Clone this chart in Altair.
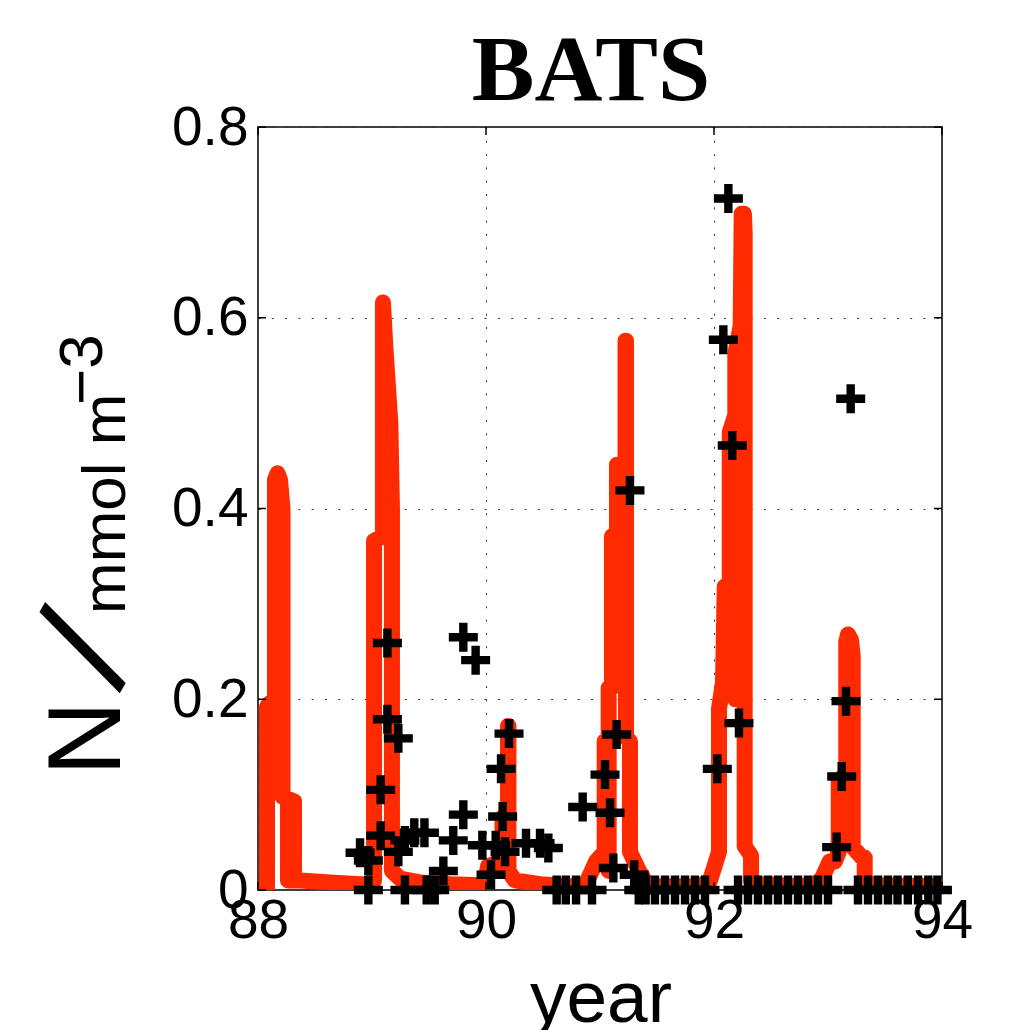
import altair as alt
import pandas as pd

# ---- model output (red line): year, N ----
line_year = [
    88.000, 88.079, 88.079, 88.096, 88.149, 88.149, 88.171, 88.193, 88.215, 88.215,
    88.316, 88.316, 88.263, 88.263, 88.263, 88.368, 88.632, 88.895,
    89.000, 89.018, 89.018, 89.079, 89.096, 89.096, 89.117, 89.161, 89.175, 89.175,
    89.246, 89.421, 89.684, 89.947,
    89.991, 90.018, 90.145, 90.145, 90.193, 90.193, 90.197, 90.197, 90.254, 90.474, 90.737,
    90.868, 90.965, 91.041, 91.041, 91.076, 91.076, 91.076, 91.105, 91.105, 91.149,
    91.149, 91.224, 91.224, 91.228, 91.228, 91.263, 91.263, 91.342, 91.404, 91.482, 91.702,
    91.877, 91.965, 92.018, 92.044, 92.044, 92.079, 92.094, 92.138, 92.138, 92.187,
    92.187, 92.187, 92.234, 92.243, 92.263, 92.269, 92.269, 92.325, 92.325, 92.404, 92.579,
    92.754, 92.886, 92.947, 93.015, 93.061, 93.094, 93.094, 93.160, 93.160, 93.175,
    93.202, 93.217, 93.217, 93.298, 93.322, 93.322, 93.456, 94.000,
]
line_val = [
    0.000, 0.000, 0.192, 0.195, 0.200, 0.430, 0.437, 0.430, 0.400, 0.098,
    0.093, 0.012, 0.012, 0.090, 0.010, 0.010, 0.008, 0.006,
    0.006, 0.010, 0.366, 0.370, 0.370, 0.616, 0.570, 0.490, 0.400, 0.020,
    0.012, 0.008, 0.006, 0.005,
    0.008, 0.025, 0.030, 0.076, 0.080, 0.172, 0.172, 0.020, 0.010, 0.006, 0.004,
    0.004, 0.030, 0.040, 0.156, 0.156, 0.020, 0.212, 0.212, 0.371, 0.371,
    0.446, 0.446, 0.576, 0.576, 0.160, 0.156, 0.040, 0.020, 0.008, 0.004, 0.004,
    0.004, 0.010, 0.030, 0.040, 0.190, 0.218, 0.318, 0.322, 0.480, 0.498,
    0.200, 0.562, 0.592, 0.709, 0.709, 0.688, 0.046, 0.036, 0.010, 0.006, 0.005,
    0.004, 0.006, 0.012, 0.030, 0.030, 0.040, 0.115, 0.122, 0.260, 0.268,
    0.262, 0.245, 0.045, 0.034, 0.034, 0.008, 0.005, 0.004,
]

# ---- observations (black crosses): year, N ----
obs_year = [
    88.895, 88.968, 88.968, 89.076, 89.076, 89.135, 89.135, 89.231, 89.231, 89.289,
    89.289, 89.371, 89.460, 89.480, 89.550, 89.626, 89.713, 89.801, 89.909, 89.801,
    89.968, 90.044, 90.085, 90.132, 90.146, 90.167, 90.202, 90.351, 90.474, 90.547,
    90.620, 90.700, 90.790, 90.848, 90.930,
    91.044, 91.088, 91.117, 91.146, 91.263, 91.300, 91.340, 91.400, 91.482, 91.570,
    91.658, 91.746, 91.833, 91.921,
    92.029, 92.082, 92.126, 92.160, 92.219,
    92.211, 92.298, 92.386, 92.474, 92.561, 92.649, 92.737, 92.825, 92.912, 93.000,
    93.076, 93.120, 93.158, 93.199,
    93.263, 93.351, 93.439, 93.526, 93.610, 93.700, 93.790, 93.880, 93.960,
]
obs_val = [
    0.039, 0.031, 0.000, 0.105, 0.057, 0.259, 0.179, 0.159, 0.040, 0.052,
    0.000, 0.060, 0.060, 0.000, 0.000, 0.020, 0.052, 0.265, 0.241, 0.079,
    0.047, 0.016, 0.047, 0.127, 0.077, 0.040, 0.164, 0.049, 0.049, 0.044,
    0.000, 0.000, 0.000, 0.087, 0.000,
    0.121, 0.081, 0.023, 0.163, 0.419, 0.016, 0.000, 0.000, 0.000, 0.000,
    0.000, 0.000, 0.000, 0.000,
    0.127, 0.577, 0.725, 0.466, 0.175,
    0.000, 0.000, 0.000, 0.000, 0.000, 0.000, 0.000, 0.000, 0.000, 0.000,
    0.045, 0.119, 0.198, 0.515,
    0.000, 0.000, 0.000, 0.000, 0.000, 0.000, 0.000, 0.000, 0.000,
]

x_ticks = [88, 90, 92, 94]
y_ticks = [0, 0.2, 0.4, 0.6, 0.8]

W, H = 684, 763
FONT = "Liberation Sans"

line_df = pd.DataFrame({"year": line_year, "N": line_val, "i": list(range(len(line_year)))})
obs_df = pd.DataFrame({"year": obs_year, "N": obs_val})
xt_df = pd.DataFrame({"year": x_ticks})
yt_df = pd.DataFrame({"N": y_ticks})

xscale = alt.Scale(domain=[88, 94], nice=False, zero=False)
yscale = alt.Scale(domain=[0, 0.8], nice=False)

x_axis = alt.Axis(values=x_ticks, title=None, labelFont=FONT, labelFontSize=55,
                  labelColor="black", labelPadding=4, ticks=False, domain=False,
                  grid=True, gridDash=[2, 11.3], gridColor="#333", gridWidth=1,
                  labelFlush=False, labelOverlap=False, format="d")
y_axis = alt.Axis(values=y_ticks, title=None, labelFont=FONT, labelFontSize=55,
                  labelColor="black", labelPadding=10, ticks=False, domain=False,
                  grid=True, gridDash=[2, 11.3], gridColor="#333", gridWidth=1,
                  labelFlush=False, labelOverlap=False, format="~g")

X = alt.X("year:Q", scale=xscale, axis=x_axis)
Y = alt.Y("N:Q", scale=yscale, axis=y_axis)

line = alt.Chart(line_df).mark_line(
    color="#ff2a00", strokeWidth=16, strokeCap="round", strokeJoin="round", clip=True
).encode(x=X, y=Y, order=alt.Order("i:Q"))

cross_path = "M-1,-0.29H-0.29V-1H0.29V-0.29H1V0.29H0.29V1H-0.29V0.29H-1Z"
pts = alt.Chart(obs_df).mark_point(
    shape=cross_path, size=841, filled=True, color="black", opacity=1, strokeWidth=0
).encode(x=X, y=Y)

tick_style = dict(color="black", strokeWidth=1.5)
xt_bottom = alt.Chart(xt_df).mark_rule(**tick_style).encode(x=X, y=alt.value(H), y2=alt.value(H - 8))
xt_top = alt.Chart(xt_df).mark_rule(**tick_style).encode(x=X, y=alt.value(0), y2=alt.value(8))
yt_left = alt.Chart(yt_df).mark_rule(**tick_style).encode(y=Y, x=alt.value(0), x2=alt.value(8))
yt_right = alt.Chart(yt_df).mark_rule(**tick_style).encode(y=Y, x=alt.value(W), x2=alt.value(W - 8))

def label(text, x, y, size, font=FONT, weight="normal", angle=0, align="left",
          baseline="alphabetic"):
    return alt.Chart(pd.DataFrame({"t": [text]})).mark_text(
        font=font, fontSize=size, fontWeight=weight, angle=angle, align=align,
        baseline=baseline, color="black"
    ).encode(x=alt.value(x), y=alt.value(y), text="t:N")

title = label("BATS", 333, -27, 94, font="Liberation Serif", weight="bold", align="center")
xtitle = label("year", 343, 895, 73, align="center")
yN = label("N", -138, 649, 104, angle=270)
ySlash = label("/", -168, 525, 150, angle=300, align="center", baseline="middle")
yUnit = label("mmol m", -133, 487, 62, font="Liberation Sans Narrow, Liberation Sans", angle=270)
yExp = label("\u22123", -156, 278, 62, angle=270)

chart = alt.layer(
    line, pts, xt_bottom, xt_top, yt_left, yt_right,
    title, xtitle, yN, ySlash, yUnit, yExp
).properties(
    width=W, height=H,
    padding={"left": 250, "top": 119, "right": 67, "bottom": 140},
    autosize=alt.AutoSizeParams(type="none"),
).configure_view(stroke="black", strokeWidth=1.5)

chart.save("out.html", embed_options={"renderer": "svg", "actions": False})
